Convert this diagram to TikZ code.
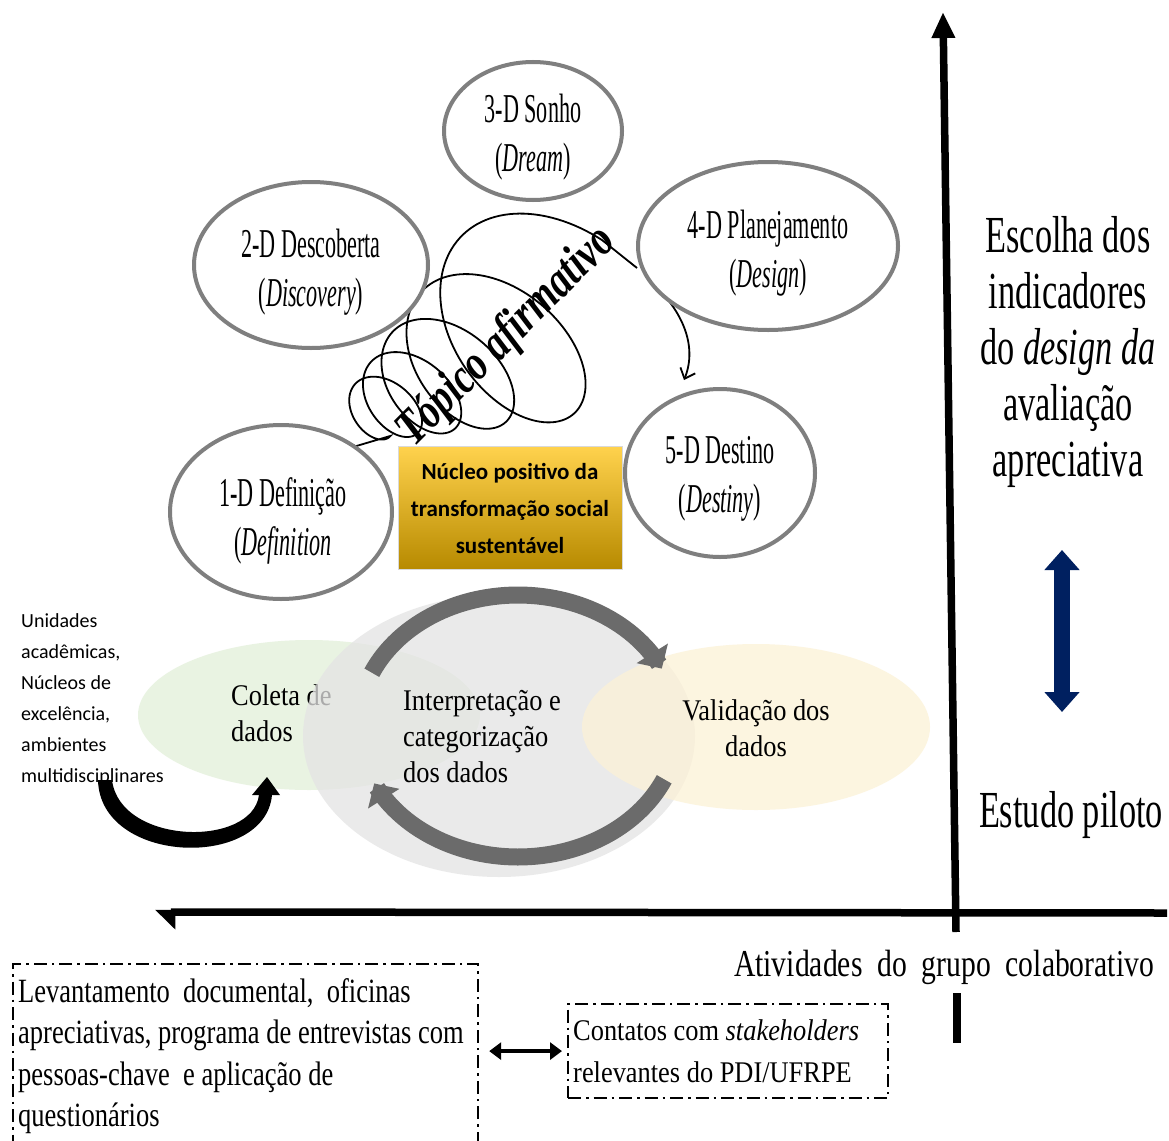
\documentclass[tikz,border=0pt]{standalone}
\usepackage{fontspec}
\setmainfont{Liberation Serif}
\newfontfamily\narrowA[FakeStretch=0.54]{Liberation Serif}
\newfontfamily\narrowB[FakeStretch=0.66]{Liberation Serif}
\newfontfamily\narrowC[FakeStretch=0.88]{Liberation Serif}
\newfontfamily\narrowD[FakeStretch=0.78]{Liberation Serif}
\newfontfamily\sanscal{Carlito}
\usetikzlibrary{shapes.geometric,arrows.meta}
\definecolor{dgray}{HTML}{7F7F7F}
\definecolor{greenfill}{HTML}{E2EFD9}
\definecolor{grayfill}{HTML}{E4E4E4}
\definecolor{yellowfill}{HTML}{FCF2D6}
\definecolor{arrowgray}{HTML}{6B6B6B}
\definecolor{navyarrow}{HTML}{002060}
\definecolor{goldtop}{HTML}{FFD24D}
\definecolor{goldmid}{HTML}{F2B600}
\definecolor{goldbot}{HTML}{B78A00}
\begin{document}
\begin{tikzpicture}[x=1pt,y=-1pt,
  declare function={gg(\t)=exp(0.3*\t/360);
    coilx(\t)=370+60*(gg(\t)-1)+gg(\t)*(20.5*cos(\t)-14.6*sin(\t));
    coily(\t)=414-33*(gg(\t)-1)+gg(\t)*(21.9*cos(\t)+13.6*sin(\t));},
  dell/.style={draw=dgray, line width=4pt, fill=white, ellipse, inner sep=0pt},
  dtext/.style={inner sep=0pt, align=center, font=\narrowA\fontsize{41}{49}\selectfont},
  lowell/.style={ellipse, inner sep=0pt, fill opacity=0.75},
  lowtext/.style={inner sep=0pt, font=\narrowC\fontsize{30}{36}\selectfont},
  coilline/.style={line width=1.8pt, black},
  grayarrow/.style={line width=17pt, arrowgray, -{Triangle[length=18pt,width=36pt]}},
  axis/.style={line width=7.5pt, black},
  ddbox/.style={draw, line width=2.2pt, dash pattern=on 13pt off 5pt on 2.5pt off 5pt},
  righttext/.style={inner sep=0pt, align=center, font=\narrowB\fontsize{52}{56}\selectfont},
]
\path[use as bounding box] (0,0) rectangle (1169,1140);
\fill[white] (0,0) rectangle (1169,1140);

% ---- coil (topico afirmativo) ----
\coordinate (coildot) at (353,447);
\coordinate (coilend) at (637,268);
\draw[coilline] (coildot) -- plot[domain=0:1700, samples=600, variable=\t] ({coilx(\t)},{coily(\t)}) -- (coilend);
\fill (coildot) circle[radius=3pt];
\coordinate (arrstart) at (646,277);
\coordinate (arrend) at (684,380);
\draw[line width=1.8pt, -{Straight Barb[length=9pt,width=16pt]}] (arrstart) .. controls (682,308) and (698,345) .. (arrend);

% ---- D ellipses ----
\node[dell, minimum width=178pt, minimum height=138pt] (d3) at (533,131) {};
\node[dtext] (d3t) at (533,137) {3-D Sonho\\(\textit{Dream})};
\node[dell, minimum width=234pt, minimum height=166pt] (d2) at (311,265) {};
\node[dtext] (d2t) at (311,272) {2-D Descoberta\\(\textit{Discovery})};
\node[dell, minimum width=260pt, minimum height=168pt] (d4) at (768,246) {};
\node[dtext] (d4t) at (768,253) {4-D Planejamento\\(\textit{Design})};
\node[dell, minimum width=222pt, minimum height=174pt] (d1) at (281,512) {};
\node[dtext] (d1t) at (283,521) {1-D Definição\\(\textit{Definition}};
\node[dell, minimum width=190pt, minimum height=168pt] (d5) at (720,473) {};
\node[dtext] (d5t) at (720,479) {5-D Destino\\(\textit{Destiny})};

\node[rotate=45, inner sep=0pt, font=\narrowD\bfseries\itshape\fontsize{50}{50}\selectfont] (topico) at (507,337) {Tópico afirmativo};

% ---- nucleus box ----
\node[draw=black!15, line width=1pt, top color=goldtop, middle color=goldmid, bottom color=goldbot,
  minimum width=224pt, minimum height=123pt, inner sep=0pt, align=center,
  font=\sanscal\bfseries\fontsize{23}{37}\selectfont] (nucleo) at (510,508)
  {Núcleo positivo da\\transformação social\\sustentável};

% ---- lower ellipses ----
\node[lowell, fill=greenfill, minimum width=342pt, minimum height=150pt] (coleta) at (309,715) {};
\node[lowtext, anchor=west, align=left] (coletat) at (231,713) {Coleta de\\dados};
\node[lowell, fill=grayfill, minimum width=392pt, minimum height=282pt] (interp) at (499,736) {};
\node[lowtext, anchor=west, align=left] (interpt) at (403,737) {Interpretação e\\categorização\\dos dados};
\node[lowell, fill=yellowfill, minimum width=348pt, minimum height=166pt] (valid) at (756,727) {};
\node[lowtext, align=center] (validt) at (756,728) {Validação dos\\dados};

\draw[grayarrow] plot[domain=204:334, samples=60, variable=\t] ({518+160*cos(\t)},{726+131*sin(\t)});
\draw[grayarrow] plot[domain=24:154, samples=60, variable=\t] ({518+160*cos(\t)},{726+131*sin(\t)});

% ---- left text and black arrow ----
\node[anchor=north west, inner sep=0pt, align=left, font=\sanscal\fontsize{20}{31}\selectfont] (unid) at (21,613)
  {Unidades\\acadêmicas,\\Núcleos de\\excelência,\\ambientes\\multidisciplinares};
\fill[black] (98,780) .. controls (100,865) and (265,870) .. (272,795) -- (280,795) -- (267,777) -- (252,795) -- (259,795)
  .. controls (252,848) and (120,845) .. (112,780) -- cycle;

% ---- axes ----
\coordinate (ytop) at (943,12);
\coordinate (ybot) at (956,932);
\draw[axis, -{Triangle[length=26pt,width=22pt]}] (ybot) -- (ytop);
\coordinate (xright) at (1167,913);
\coordinate (xleft) at (155,912);
\draw[axis, -{Triangle[length=18pt,width=34pt,left]}] (xright) -- (xleft);
\coordinate (ystubtop) at (957,993);
\coordinate (ystubbot) at (957,1043);
\draw[axis] (ystubtop) -- (ystubbot);

% ---- right texts ----
\node[righttext] (escolha) at (1068,352) {Escolha dos\\indicadores\\do \textit{design da}\\avaliação\\apreciativa};
\node[righttext] (piloto) at (1071,815) {Estudo piloto};
\draw[line width=16pt, navyarrow, {Triangle[length=20pt,width=34pt]}-{Triangle[length=20pt,width=34pt]}] (1062,550) -- (1062,712);
\node[inner sep=0pt, font=\narrowD\fontsize{38}{40}\selectfont] (ativ) at (944,967) {Atividades\ \ do\ \ grupo\ \ colaborativo};

% ---- bottom boxes ----
\node[ddbox, anchor=north west, minimum width=465pt, minimum height=200pt, inner sep=0pt] (levbox) at (12,963) {};
\node[anchor=north west, inner sep=0pt, align=left, font=\narrowD\fontsize{34}{41.5}\selectfont] (levtext) at (18,978)
  {Levantamento\ \ documental,\ \ oficinas\\apreciativas, programa de entrevistas com\\pessoas-chave\ \ e aplicação de\\questionários};
\node[ddbox, anchor=north west, minimum width=320pt, minimum height=94pt, inner sep=0pt] (contbox) at (567,1003) {};
\node[anchor=north west, inner sep=0pt, align=left, font=\narrowC\fontsize{30}{42}\selectfont] (conttext) at (573,1019)
  {Contatos com \textit{stakeholders}\\relevantes do PDI/UFRPE};
\draw[line width=3.5pt, {Triangle[length=12pt,width=17pt]}-{Triangle[length=12pt,width=17pt]}, shorten <=10pt, shorten >=5pt]
  (levbox.east |- contbox.west) -- (contbox.west);
\end{tikzpicture}
\end{document}
